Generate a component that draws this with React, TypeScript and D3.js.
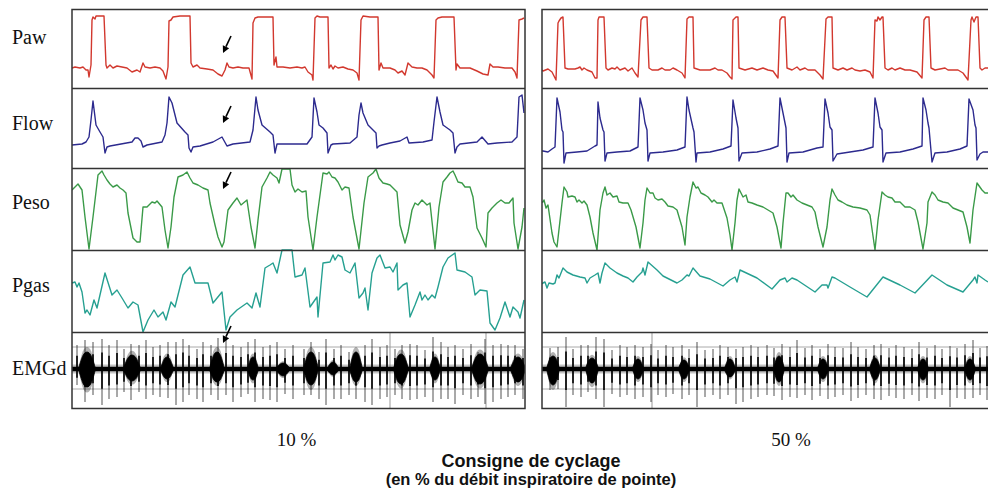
import React from "react";
import * as d3 from "d3";

// ---------- DATA (time in 0.1 s units within each recording, value in arbitrary units) ----------
const rowNames = ["Paw", "Flow", "Peso", "Pgas", "EMGd"];
const conditionLabels = ["10 %", "50 %"];
const titleLines = ["Consigne de cyclage", "(en % du débit inspiratoire de pointe)"];

const pawLeft: [number, number][] = [
  [0,20],[3,21],[8,20],[11,21],[14,18],[16,18],[17,11],[19,23],[20,68],[21,71],[23,69],[24,72],[32,72],[34,23],[35,20],[38,23],[41,20],[45,22],[50,21],[55,20],[60,16],[65,18],[68,16],[71,25],[73,21],[78,20],[83,21],[88,20],[91,17],[94,9],[96,21],[97,67],[99,68],[101,71],[108,72],[118,72],[119,25],[121,21],[125,23],[128,20],[135,19],[141,18],[146,14],[150,12],[153,18],[155,25],[157,21],[161,20],[166,21],[171,20],[177,20],[180,9],[181,65],[183,70],[186,71],[201,71],[202,23],[204,31],[205,21],[211,21],[218,20],[225,21],[230,20],[233,21],[236,16],[240,13],[241,8],[243,70],[245,72],[248,71],[256,71],[257,20],[259,23],[261,19],[263,22],[266,20],[271,21],[276,19],[281,18],[285,15],[287,8],[289,68],[291,72],[298,71],[306,71],[307,18],[309,25],[311,20],[318,20],[323,18],[326,15],[330,17],[333,13],[336,25],[340,21],[345,20],[350,20],[355,18],[360,13],[362,10],[364,68],[366,70],[370,71],[382,71],[384,18],[385,24],[388,20],[398,20],[405,17],[411,14],[416,13],[418,24],[421,21],[426,21],[433,20],[440,20],[443,16],[445,10],[447,68],[450,69],[452,70]
];
const flowLeft: [number, number][] = [
  [0,23],[10,24],[14,26],[17,31],[19,48],[21,67],[24,43],[28,36],[31,31],[33,15],[35,21],[38,22],[60,26],[63,30],[66,30],[69,27],[71,21],[75,23],[90,26],[93,33],[95,45],[97,71],[100,65],[105,45],[113,36],[116,33],[117,20],[119,16],[121,21],[128,22],[141,26],[150,31],[155,22],[161,24],[178,26],[181,38],[184,71],[186,58],[190,43],[198,36],[201,33],[203,15],[205,24],[228,24],[235,24],[240,31],[242,70],[245,56],[247,43],[251,40],[255,35],[256,15],[259,23],[261,24],[278,25],[285,31],[287,53],[289,65],[291,55],[296,43],[304,35],[305,20],[307,22],[310,23],[318,25],[328,27],[335,31],[337,25],[351,26],[360,28],[362,46],[365,71],[368,56],[371,43],[378,38],[381,35],[383,15],[385,21],[388,24],[405,26],[410,31],[416,24],[425,25],[440,26],[445,31],[447,71],[450,73],[452,55]
];
const pesoLeft: [number, number][] = [
  [0,60],[3,63],[6,66],[10,60],[13,33],[17,1],[21,33],[26,75],[30,79],[32,75],[35,70],[38,66],[41,63],[45,65],[48,62],[51,60],[54,57],[56,37],[61,12],[65,8],[68,8],[71,43],[75,43],[80,48],[83,47],[85,49],[90,43],[93,20],[96,2],[99,23],[102,53],[106,73],[111,75],[115,78],[118,72],[121,67],[126,65],[131,62],[136,60],[138,47],[143,25],[146,13],[150,3],[152,8],[156,40],[161,47],[165,52],[169,45],[175,50],[176,43],[179,23],[183,2],[186,30],[190,63],[195,72],[198,78],[201,75],[205,72],[207,67],[210,81],[218,81],[220,65],[223,58],[226,61],[230,58],[234,59],[236,33],[241,0],[245,33],[251,77],[255,76],[257,78],[260,73],[263,72],[266,68],[270,60],[273,63],[277,62],[281,33],[287,1],[292,47],[296,73],[301,77],[304,81],[307,72],[311,67],[315,66],[318,65],[321,62],[325,58],[328,25],[333,7],[336,18],[340,40],[343,47],[346,45],[350,50],[355,45],[358,47],[363,1],[367,43],[371,68],[375,73],[378,77],[381,79],[383,75],[386,68],[390,67],[393,63],[398,63],[401,53],[405,22],[410,12],[414,3],[416,37],[420,42],[425,47],[429,50],[433,47],[437,47],[441,52],[442,27],[446,1],[450,23],[452,42]
];
const pgasLeft: [number, number][] = [
  [0,49],[3,50],[5,45],[7,49],[10,40],[13,19],[15,22],[18,17],[22,32],[25,24],[33,59],[40,37],[45,42],[50,34],[56,24],[61,30],[66,27],[71,0],[76,12],[82,22],[86,15],[91,20],[94,12],[99,30],[103,25],[111,57],[118,65],[123,49],[136,49],[141,29],[150,40],[154,2],[158,15],[165,22],[175,29],[180,24],[184,39],[188,25],[193,64],[198,67],[201,69],[205,59],[210,82],[220,82],[223,55],[230,57],[233,64],[238,25],[245,35],[246,15],[251,69],[258,70],[261,77],[263,72],[266,77],[270,75],[273,62],[278,59],[283,69],[287,34],[291,39],[293,44],[296,22],[300,59],[305,74],[308,77],[313,64],[318,65],[321,60],[325,69],[326,42],[331,47],[335,49],[338,15],[343,27],[348,40],[350,32],[353,37],[356,32],[360,37],[363,34],[366,45],[371,65],[376,74],[383,79],[385,62],[393,60],[400,55],[403,37],[408,42],[415,41],[418,9],[423,2],[428,14],[433,30],[438,15],[441,25],[446,20],[448,14],[452,32]
];

const pawRight: [number, number][] = [
  [0,18],[1,17],[6,19],[10,16],[12,12],[14,8],[16,65],[17,67],[19,70],[21,71],[23,20],[26,19],[33,19],[36,20],[38,21],[40,18],[42,20],[45,18],[50,16],[53,10],[55,10],[56,68],[57,71],[62,71],[64,20],[66,18],[70,20],[73,19],[75,21],[78,18],[83,20],[86,17],[90,20],[93,15],[96,11],[99,68],[101,71],[105,71],[107,20],[110,18],[116,18],[120,20],[123,18],[128,18],[131,20],[135,18],[140,15],[143,10],[145,69],[147,71],[151,71],[152,20],[158,18],[168,18],[173,20],[176,18],[180,18],[185,15],[188,11],[190,9],[191,68],[194,71],[196,71],[197,20],[203,18],[210,20],[215,18],[221,20],[226,18],[231,17],[236,10],[238,68],[240,71],[243,71],[245,20],[250,18],[255,21],[258,18],[263,20],[266,18],[273,18],[278,13],[281,9],[284,69],[286,71],[290,71],[291,20],[296,18],[301,20],[305,18],[310,20],[313,18],[318,17],[323,18],[328,16],[331,10],[333,68],[335,67],[336,71],[338,68],[340,71],[341,71],[343,20],[346,18],[350,20],[353,18],[358,20],[363,18],[368,18],[375,16],[380,10],[382,68],[384,71],[387,71],[389,20],[393,18],[398,19],[403,20],[406,18],[411,18],[416,18],[421,15],[426,8],[429,68],[430,71],[432,66],[434,71],[436,71],[438,20],[440,18],[443,20],[446,20]
];
const flowRight: [number, number][] = [
  [0,17],[1,17],[6,16],[10,19],[13,21],[15,70],[18,56],[20,38],[21,36],[22,5],[24,15],[35,16],[45,17],[53,22],[55,23],[56,66],[58,50],[61,38],[62,36],[63,7],[65,15],[75,16],[88,17],[96,21],[98,70],[101,58],[103,45],[105,38],[106,7],[108,15],[121,16],[135,18],[143,21],[145,71],[147,58],[151,40],[152,36],[154,6],[155,15],[168,16],[181,19],[189,22],[191,68],[194,50],[196,40],[197,7],[200,15],[215,16],[228,19],[236,22],[238,70],[241,55],[244,40],[245,6],[247,15],[261,16],[275,20],[281,21],[283,69],[286,55],[288,41],[290,38],[291,7],[295,14],[308,16],[321,18],[331,21],[333,70],[336,55],[338,41],[340,38],[341,6],[344,15],[358,16],[371,19],[380,22],[381,70],[384,58],[386,45],[387,40],[390,6],[393,15],[405,16],[418,19],[425,22],[427,69],[431,58],[433,43],[434,40],[435,8],[438,14],[441,16],[446,16]
];
const pesoRight: [number, number][] = [
  [0,48],[1,48],[2,50],[4,42],[6,45],[10,17],[12,8],[15,3],[20,47],[22,63],[25,58],[26,53],[30,54],[33,53],[35,48],[37,50],[40,47],[42,49],[45,45],[48,33],[51,17],[55,0],[58,40],[61,57],[63,63],[65,55],[68,57],[71,53],[75,54],[77,48],[81,47],[86,47],[89,40],[94,23],[98,2],[101,27],[103,50],[105,62],[108,57],[111,57],[113,52],[116,50],[120,51],[123,48],[126,44],[131,43],[135,40],[140,23],[143,5],[145,33],[148,53],[151,68],[154,62],[156,63],[159,57],[163,55],[166,53],[170,48],[172,50],[175,47],[180,47],[185,32],[188,15],[190,0],[193,27],[195,50],[197,61],[201,53],[204,55],[206,48],[210,47],[215,45],[221,43],[226,40],[231,37],[235,23],[239,2],[241,27],[244,57],[246,57],[249,53],[251,55],[255,50],[260,47],[265,45],[270,43],[273,38],[276,23],[281,3],[285,23],[288,50],[290,61],[293,55],[296,50],[300,48],[305,45],[311,43],[318,42],[325,40],[328,35],[333,0],[336,30],[340,58],[343,55],[346,53],[350,52],[353,48],[358,48],[363,43],[368,43],[373,40],[376,28],[381,1],[385,27],[386,48],[390,58],[393,55],[396,50],[401,48],[406,47],[411,42],[416,40],[421,38],[425,23],[428,7],[431,40],[435,67],[440,60],[443,57],[446,57]
];
const pgasRight: [number, number][] = [
  [0,48],[1,49],[3,50],[5,44],[7,49],[11,48],[13,49],[15,57],[17,54],[19,59],[21,64],[25,60],[31,57],[38,55],[43,54],[45,49],[48,54],[53,57],[56,59],[58,49],[60,59],[63,69],[68,64],[75,59],[81,56],[86,54],[91,50],[95,55],[100,60],[101,64],[103,57],[106,70],[115,62],[121,56],[135,49],[140,52],[145,57],[147,56],[151,64],[158,56],[168,53],[181,46],[188,52],[193,55],[195,50],[198,62],[215,54],[230,43],[238,52],[243,54],[245,50],[250,54],[255,52],[273,40],[280,47],[285,47],[286,44],[290,55],[293,54],[308,45],[325,35],[341,55],[358,47],[373,39],[390,57],[405,47],[421,40],[431,52],[433,55],[435,49],[436,57],[443,52],[446,50]
];

// EMG bursts: [centre time, half width, upper envelope, lower envelope]
const emgBurstsLeft: [number, number, number, number][] = [
  [15,8,58,23],[60,8,55,29],[95,6,53,31],[145,7,58,28],[181,5,53,30],[211,6,47,34],[239,7,58,25],[261,5,48,35],[284,6,58,28],[329,7,56,26],[363,5,53,30],[408,8,56,26],[446,7,53,28]
];
const emgBurstsRight: [number, number, number, number][] = [
  [11,6,54,25],[50,6,52,27],[96,5,51,31],[142,5,50,31],[188,5,51,33],[237,5,54,28],[281,5,51,31],[333,5,52,30],[381,5,51,30],[428,5,51,30]
];
// ECG artefact spikes: [time, top, bottom]
const emgSpikesLeft: [number, number, number][] = [
  [5,65,25],[13,70,8],[21,68,15],[30,71,5],[37,65,11],[45,70,13],[52,61,18],[59,66,10],[67,65,18],[74,70,11],[81,63,15],[88,65,13],[96,68,12],[104,68,5],[111,71,8],[117,65,15],[125,61,11],[131,68,8],[139,65,15],[146,72,10],[154,70,15],[161,65,8],[169,63,13],[176,68,16],[183,71,8],[191,63,11],[198,65,10],[205,68,8],[213,61,16],[221,65,11],[232,61,15],[239,68,15],[247,58,11],[254,71,5],[262,61,11],[269,65,11],[277,58,15],[284,58,11],[293,65,8],[300,71,5],[308,63,11],[315,65,13],[323,61,15],[330,65,11],[338,66,10],[345,65,11],[353,60,13],[361,73,8],[369,68,11],[376,63,11],[383,65,6],[391,61,15],[399,66,11],[406,58,13],[413,71,6],[421,65,8],[429,66,11],[436,65,13],[443,65,15],[451,61,11]
];
const emgSpikesRight: [number, number, number][] = [
  [8,62,20],[16,63,21],[24,73,3],[31,61,15],[39,65,13],[46,65,18],[54,73,11],[62,71,3],[70,60,16],[78,65,13],[85,63,15],[93,65,11],[101,63,13],[109,66,8],[116,60,15],[124,65,13],[131,63,16],[140,65,11],[147,61,15],[155,68,3],[163,60,13],[171,61,15],[178,65,11],[186,63,15],[194,61,6],[201,63,8],[209,65,11],[216,63,13],[225,65,15],[232,62,14],[240,66,10],[248,63,13],[255,70,12],[263,62,15],[270,65,10],[278,61,14],[286,66,11],[293,63,13],[301,62,15],[309,68,9],[316,63,12],[324,61,15],[332,65,11],[339,66,10],[347,62,14],[354,65,12],[362,63,11],[370,61,15],[377,68,9],[385,62,12],[393,65,11],[400,61,15],[408,64,3],[415,62,12],[423,66,11],[431,70,12],[438,62,15],[445,64,10]
];
// faint full-height marker lines in EMG trace
const emgMarksLeft = [318, 414];
const emgMarksRight = [110];
const emgGuideLevels = [63, 21];
const emgCentre = 41;

// arrows (left recording): time and value of tip per row index
const arrowTime = 151;
const arrowTips: [number, number][] = [[0, 35], [1, 45], [2, 61], [4, 67]];

// ---------- LAYOUT ----------
const W = 988, H = 490;
const rowTops = [10, 88, 168, 250, 332];
const rowBottoms = [88, 168, 250, 332, 410];
const labelBaselines = [44, 130, 209, 292, 375];
const frameTop = 9.5, frameBottom = 408.5;

const colors = ["#d2382e", "#2c2a8e", "#3a9a48", "#26a091", "#000"];

const panels = [
  { x0: 72, x1: 525, tMax: 453, series: [pawLeft, flowLeft, pesoLeft, pgasLeft], bursts: emgBurstsLeft, spikes: emgSpikesLeft, marks: emgMarksLeft, frameRight: 525 },
  { x0: 542, x1: 988, tMax: 446, series: [pawRight, flowRight, pesoRight, pgasRight], bursts: emgBurstsRight, spikes: emgSpikesRight, marks: emgMarksRight, frameRight: 995 },
];

const yScales = rowTops.map((t, i) => d3.scaleLinear().domain([0, rowBottoms[i] - t]).range([rowBottoms[i], t]));

function burstPoints(b: [number, number, number, number], k: number): [number, number, number][] {
  const [tc, hw, up, dn] = b;
  const u = (up - emgCentre) * k, l = (emgCentre - dn) * k, w = hw * (0.85 + 0.15 * k);
  return [
    [tc - w, emgCentre + 2, emgCentre - 2],
    [tc - w * 0.5, emgCentre + u * 0.8, emgCentre - l * 0.8],
    [tc, emgCentre + u, emgCentre - l],
    [tc + w * 0.5, emgCentre + u * 0.8, emgCentre - l * 0.8],
    [tc + w, emgCentre + 2, emgCentre - 2],
  ];
}

export default function App() {
  return (
    <svg width={W} height={H} style={{ position: "absolute", left: 0, top: 0, background: "#fff" }}>
      <defs>
        {panels.map((p, pi) => (
          <clipPath id={`clip${pi}`} key={pi}>
            <rect x={p.x0} y={frameTop} width={p.frameRight - p.x0} height={frameBottom - frameTop} />
          </clipPath>
        ))}
      </defs>
      {panels.map((p, pi) => {
        const x = d3.scaleLinear().domain([0, p.tMax]).range([p.x0, p.x1]);
        const ye = yScales[4];
        const area = d3.area<[number, number, number]>()
          .x(d => x(d[0])).y0(d => ye(d[2])).y1(d => ye(d[1]))
          .curve(d3.curveCardinal);
        return (
          <g key={pi}>
            <g clipPath={`url(#clip${pi})`}>
              {p.series.map((s, si) => {
                const line = d3.line<[number, number]>().x(d => x(d[0])).y(d => yScales[si](d[1]));
                return <path key={si} d={line(s) || ""} fill="none" stroke={colors[si]} strokeWidth={1.4} strokeLinejoin="round" />;
              })}
              {/* EMG */}
              {emgGuideLevels.map((lv, i) => (
                <line key={"g" + i} x1={p.x0} x2={p.frameRight} y1={ye(lv)} y2={ye(lv)} stroke="#aaa" strokeWidth={1} />
              ))}
              {p.marks.map((m, i) => (
                <line key={"m" + i} x1={x(m)} x2={x(m)} y1={rowTops[4]} y2={frameBottom} stroke="#999" strokeWidth={1} />
              ))}
              <line x1={p.x0} x2={p.frameRight} y1={ye(emgCentre)} y2={ye(emgCentre)} stroke="#555" strokeOpacity={0.35} strokeWidth={9} />
              {p.spikes.map((s, i) => (
                <line key={"s" + i} x1={x(s[0])} x2={x(s[0])} y1={ye(s[1])} y2={ye(s[2])} stroke="#222" strokeOpacity={0.6} strokeWidth={1.3} />
              ))}
              {p.spikes.map((s, i) => (
                <line key={"sc" + i} x1={x(s[0])} x2={x(s[0])} y1={ye(emgCentre + (s[1] - emgCentre) * 0.55)} y2={ye(emgCentre - (emgCentre - s[2]) * 0.55)} stroke="#000" strokeWidth={1.6} />
              ))}
              <line x1={p.x0} x2={p.frameRight} y1={ye(emgCentre)} y2={ye(emgCentre)} stroke="#000" strokeWidth={4.5} />
              {p.bursts.map((b, i) => (
                <path key={"bh" + i} d={area(burstPoints(b, 1.3)) || ""} fill="#000" fillOpacity={0.3} />
              ))}
              {p.bursts.map((b, i) => (
                <path key={"b" + i} d={area(burstPoints(b, 1)) || ""} fill="#000" stroke="#000" strokeWidth={0.8} />
              ))}
            </g>
            {/* frame */}
            <rect x={p.x0} y={frameTop} width={p.frameRight - p.x0} height={frameBottom - frameTop} fill="none" stroke="#333" strokeWidth={1.5} />
            {rowBottoms.slice(0, 4).map((b, i) => (
              <line key={"d" + i} x1={p.x0} x2={p.frameRight} y1={b + 0.5} y2={b + 0.5} stroke="#333" strokeWidth={1.5} />
            ))}
            <text x={(p.x0 + p.x1) / 2 + (pi === 0 ? -2 : 26)} y={446} textAnchor="middle" fontFamily="Liberation Serif, serif" fontSize={19} fill="#111">
              {conditionLabels[pi]}
            </text>
            {pi === 0 && arrowTips.map(([ri, v], i) => {
              const tx = x(arrowTime), ty = yScales[ri](v);
              const dx = 8, dy = -17, len = Math.hypot(dx, dy);
              const ux = dx / len, uy = dy / len;
              const hl = 7, hw2 = 3.5;
              const bx = tx + ux * hl, by = ty + uy * hl;
              return (
                <g key={"a" + i}>
                  <line x1={bx} y1={by} x2={tx + dx} y2={ty + dy} stroke="#000" strokeWidth={1.6} />
                  <polygon points={`${tx},${ty} ${bx - uy * hw2},${by + ux * hw2} ${bx + uy * hw2},${by - ux * hw2}`} fill="#000" />
                </g>
              );
            })}
          </g>
        );
      })}
      {rowNames.map((n, i) => (
        <text key={n} x={12} y={labelBaselines[i]} fontFamily="Liberation Serif, serif" fontSize={20} fill="#111">{n}</text>
      ))}
      <text x={531} y={467} textAnchor="middle" fontFamily="Liberation Sans, Arial, sans-serif" fontWeight="bold" fontSize={18} fill="#111">{titleLines[0]}</text>
      <text x={531} y={485} textAnchor="middle" fontFamily="Liberation Sans, Arial, sans-serif" fontWeight="bold" fontSize={16.5} fill="#111">{titleLines[1]}</text>
    </svg>
  );
}
